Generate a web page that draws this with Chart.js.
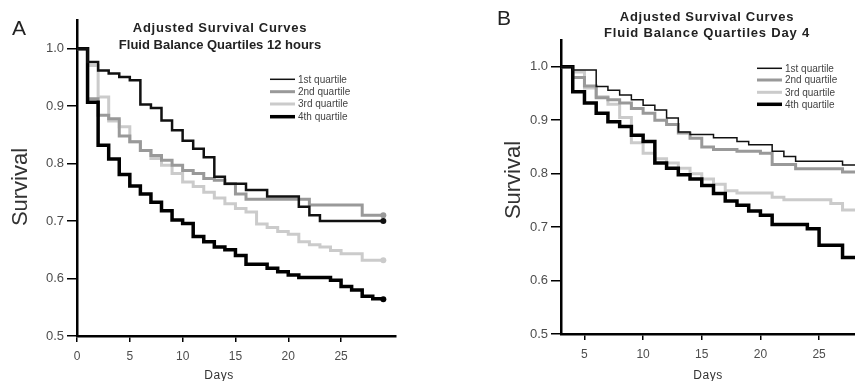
<!DOCTYPE html>
<html>
<head>
<meta charset="utf-8">
<script src="https://cdn.jsdelivr.net/npm/chart.js@4.4.1/dist/chart.umd.min.js"></script>
<style>
  html, body { margin: 0; padding: 0; overflow: hidden; background: #fff; width: 855px; height: 381px; }
  #chartA { position: absolute; left: 0; top: 0; }
  #chartB { position: absolute; left: 430px; top: 0; }
</style>
</head>
<body>
<canvas id="chartA" width="430" height="381"></canvas>
<canvas id="chartB" width="440" height="381"></canvas>
<script>
// Panel A - fluid balance quartiles at 12 hours (day of event, survival after it)
const daysA1 = [0, 1, 2, 3, 4, 5, 6, 7, 8, 9, 10, 11, 12, 13, 14, 16, 18, 21, 22, 23, 29];
const survA1 = [1, 0.977, 0.962, 0.957, 0.951, 0.945, 0.903, 0.897, 0.875, 0.858, 0.840, 0.826, 0.811, 0.777, 0.765, 0.754, 0.743, 0.725, 0.710, 0.700, 0.700];
const daysA2 = [0, 1, 2, 3, 4, 5, 6, 7, 8, 9, 10, 11, 12, 13, 14, 15, 16, 22, 27, 29];
const survA2 = [1, 0.913, 0.884, 0.878, 0.848, 0.838, 0.823, 0.814, 0.806, 0.797, 0.788, 0.783, 0.774, 0.771, 0.765, 0.747, 0.738, 0.728, 0.710, 0.710];
const daysA3 = [0, 1, 2, 3, 4, 5, 6, 7, 8, 9, 10, 11, 12, 13, 14, 15, 16, 17, 18, 19, 20, 21, 22, 23, 24, 25, 27, 29];
const survA3 = [1, 0.971, 0.916, 0.874, 0.864, 0.838, 0.823, 0.809, 0.797, 0.783, 0.768, 0.760, 0.750, 0.740, 0.730, 0.722, 0.716, 0.695, 0.689, 0.682, 0.677, 0.664, 0.659, 0.655, 0.649, 0.643, 0.632, 0.632];
const daysA4 = [0, 1, 2, 3, 4, 5, 6, 7, 8, 9, 10, 11, 12, 13, 14, 15, 16, 18, 19, 20, 21, 24, 25, 26, 27, 28, 29];
const survA4 = [1, 0.907, 0.832, 0.808, 0.781, 0.761, 0.747, 0.733, 0.718, 0.702, 0.696, 0.673, 0.664, 0.655, 0.650, 0.640, 0.625, 0.618, 0.612, 0.606, 0.602, 0.597, 0.586, 0.580, 0.569, 0.565, 0.564];

// Panel B - fluid balance quartiles at day 4
const daysB1 = [3, 4, 6, 7, 8, 9, 10, 11, 12, 13, 14, 16, 18, 19, 21, 22, 23, 27, 29];
const survB1 = [1, 0.994, 0.963, 0.956, 0.947, 0.938, 0.928, 0.919, 0.904, 0.878, 0.873, 0.867, 0.860, 0.854, 0.842, 0.832, 0.823, 0.816, 0.816];
const daysB2 = [3, 4, 5, 6, 7, 8, 9, 10, 11, 12, 13, 14, 15, 16, 18, 20, 21, 23, 27, 29];
const survB2 = [1, 0.980, 0.964, 0.942, 0.938, 0.932, 0.922, 0.913, 0.900, 0.892, 0.876, 0.866, 0.850, 0.845, 0.842, 0.838, 0.817, 0.809, 0.803, 0.803];
const daysB3 = [3, 4, 5, 6, 7, 8, 9, 10, 11, 12, 13, 14, 15, 16, 17, 18, 21, 22, 26, 27, 29];
const survB3 = [1, 0.990, 0.960, 0.944, 0.930, 0.905, 0.858, 0.838, 0.828, 0.820, 0.810, 0.800, 0.790, 0.780, 0.768, 0.764, 0.756, 0.751, 0.744, 0.732, 0.732];
const daysB4 = [3, 4, 5, 6, 7, 8, 9, 10, 11, 12, 13, 14, 15, 16, 17, 18, 19, 20, 21, 24, 25, 27, 29];
const survB4 = [1, 0.953, 0.932, 0.913, 0.897, 0.888, 0.872, 0.860, 0.820, 0.810, 0.798, 0.790, 0.778, 0.763, 0.749, 0.741, 0.730, 0.722, 0.705, 0.697, 0.666, 0.643, 0.643];

const quartileLabels = ['1st quartile', '2nd quartile', '3rd quartile', '4th quartile'];
const yTicks = [0.5, 0.6, 0.7, 0.8, 0.9, 1.0];
const xTicksA = [0, 5, 10, 15, 20, 25];
const xTicksB = [5, 10, 15, 20, 25];

const FONT = '"Liberation Sans", Arial, sans-serif';
const lineColors = ['#111111', '#999999', '#cbcbcb', '#000000'];
const drawOrder = [0, 2, 3, 1];
const legendWidths = [1.5, 3, 3, 3.5];

function pts(days, surv) {
  return days.map((d, i) => ({ x: d, y: surv[i] }));
}

// titles, axis names, panel letter and legend drawn on top of the chart
const panelText = {
  id: 'panelText',
  afterDraw(chart, args, o) {
    const ctx = chart.ctx;
    ctx.save();
    ctx.fillStyle = '#222';
    ctx.textBaseline = 'alphabetic';

    ctx.font = '21px ' + FONT;
    ctx.textAlign = 'left';
    ctx.fillText(o.letter, o.letterX, o.letterY);

    ctx.font = 'bold 13px ' + FONT;
    ctx.textAlign = 'center';
    o.title.forEach((line, i) => {
      ctx.letterSpacing = o.titleSpacing[i] + 'px';
      ctx.fillText(line, o.titleX, o.titleY[i]);
    });
    ctx.letterSpacing = '0px';

    ctx.fillStyle = '#333';
    ctx.font = '12px ' + FONT;
    ctx.letterSpacing = '0.6px';
    ctx.fillText('Days', o.daysX, o.daysY);
    ctx.letterSpacing = '0px';

    ctx.save();
    ctx.translate(o.survX, o.survY);
    ctx.rotate(-Math.PI / 2);
    ctx.font = '22px ' + FONT;
    ctx.fillText('Survival', 0, 0);
    ctx.restore();

    ctx.font = '10px ' + FONT;
    ctx.textAlign = 'left';
    ctx.textBaseline = 'middle';
    ctx.fillStyle = '#444';
    chart.data.datasets.forEach((d, i) => {
      const y = o.legendY[i];
      ctx.beginPath();
      ctx.strokeStyle = d.borderColor;
      ctx.lineWidth = legendWidths[i];
      ctx.moveTo(o.legendX, y);
      ctx.lineTo(o.legendX + 25, y);
      ctx.stroke();
      ctx.fillText(d.label, o.legendX + 28, y + 0.5);
    });
    ctx.restore();
  }
};

function makeChart(id, cfg) {
  return new Chart(document.getElementById(id), {
    type: 'line',
    data: {
      datasets: cfg.series.map((s, i) => ({
        label: quartileLabels[i],
        data: pts(s[0], s[1]),
        stepped: 'before',
        borderColor: lineColors[i],
        backgroundColor: lineColors[i],
        borderWidth: cfg.widths[i],
        pointRadius: c => (cfg.dots && c.dataIndex === s[0].length - 1) ? 3 : 0,
        pointBorderWidth: 0,
        pointBackgroundColor: lineColors[i],
        fill: false,
        order: drawOrder[i]
      }))
    },
    options: {
      responsive: false,
      animation: false,
      events: [],
      layout: { padding: cfg.padding },
      plugins: {
        legend: { display: false },
        tooltip: { enabled: false },
        panelText: cfg.text
      },
      scales: {
        x: {
          type: 'linear',
          min: cfg.xMin,
          max: cfg.xMax,
          afterBuildTicks: sc => { sc.ticks = cfg.xTicks.map(v => ({ value: v })); },
          afterFit: sc => { sc.height = cfg.xHeight; },
          border: { color: '#000', width: 2.5 },
          grid: { drawOnChartArea: false, tickLength: 6, color: '#000', lineWidth: 1.5 },
          ticks: { color: '#4d4d4d', font: { family: FONT, size: 12 }, padding: 7, maxRotation: 0, callback: v => String(v) }
        },
        y: {
          type: 'linear',
          min: 0.5,
          max: 1.05,
          afterBuildTicks: sc => { sc.ticks = yTicks.map(v => ({ value: v })); },
          afterFit: sc => { sc.width = cfg.yWidth; },
          border: { color: '#000', width: 2.5 },
          grid: { drawOnChartArea: false, tickLength: 10, color: '#000', lineWidth: 1.5 },
          ticks: { color: '#4d4d4d', font: { family: FONT, size: 13 }, padding: 3, callback: v => v.toFixed(1) }
        }
      }
    },
    plugins: [panelText]
  });
}

makeChart('chartA', {
  series: [[daysA1, survA1], [daysA2, survA2], [daysA3, survA3], [daysA4, survA4]],
  widths: [2.5, 3, 3, 3.5],
  dots: true,
  xMin: 0, xMax: 30.2, xTicks: xTicksA,
  xHeight: 45, yWidth: 77,
  padding: { left: 0, top: 20, right: 34, bottom: 0 },
  text: {
    letter: 'A', letterX: 12, letterY: 35,
    title: ['Adjusted Survival Curves', 'Fluid Balance Quartiles 12 hours'],
    titleSpacing: [0.7, 0], titleX: 220, titleY: [31.5, 48.5],
    daysX: 219, daysY: 379,
    survX: 27, survY: 187,
    legendX: 270, legendY: [79.3, 91.7, 104, 116.7]
  }
});

makeChart('chartB', {
  series: [[daysB1, survB1], [daysB2, survB2], [daysB3, survB3], [daysB4, survB4]],
  widths: [1.5, 3, 3, 3.5],
  dots: false,
  xMin: 3, xMax: 29, xTicks: xTicksB,
  xHeight: 47, yWidth: 131,
  padding: { left: 0, top: 40, right: 4, bottom: 0 },
  text: {
    letter: 'B', letterX: 67, letterY: 25,
    title: ['Adjusted Survival Curves', 'Fluid Balance Quartiles Day 4'],
    titleSpacing: [0.7, 0.8], titleX: 277, titleY: [20.5, 37],
    daysX: 278, daysY: 379,
    survX: 90, survY: 180,
    legendX: 327, legendY: [68.3, 80, 92.3, 104.3]
  }
});
</script>
</body>
</html>
